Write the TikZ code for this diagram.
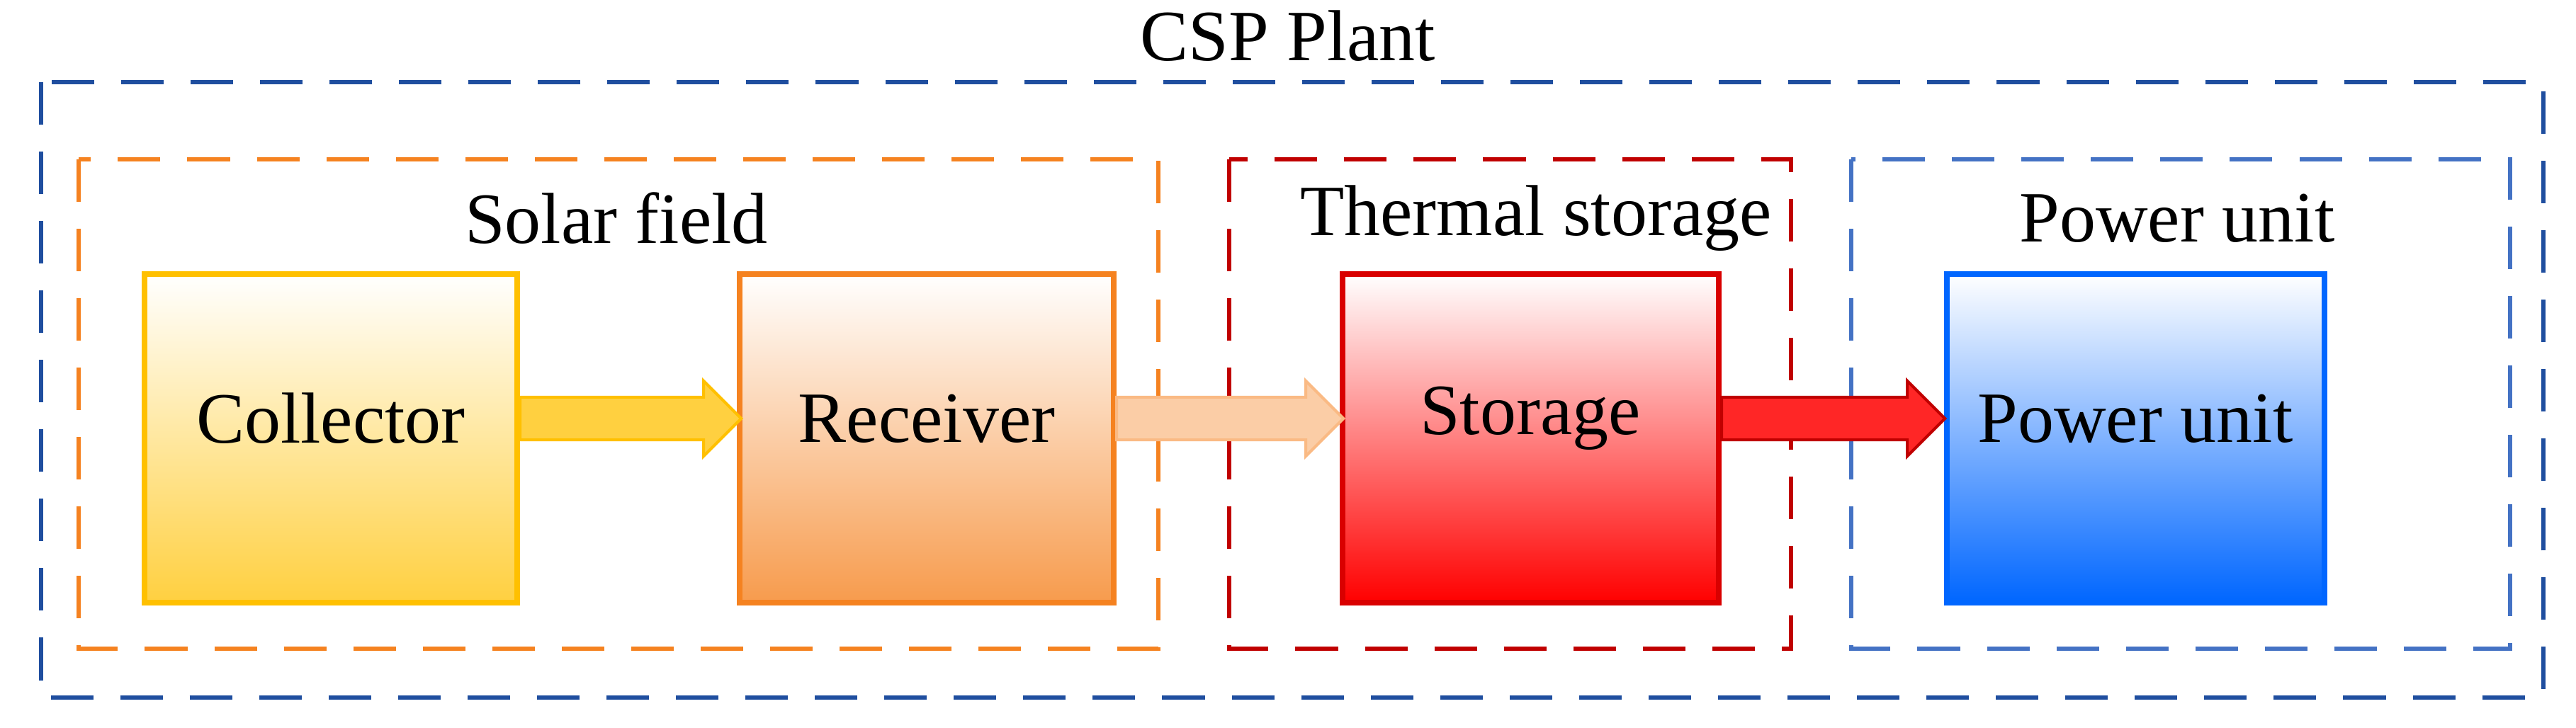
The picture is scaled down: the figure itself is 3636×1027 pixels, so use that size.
\documentclass[tikz,border=0pt]{standalone}
\usepackage{fontspec}
\setmainfont{Liberation Serif}
\usetikzlibrary{shapes.arrows}
\definecolor{gold}{HTML}{FFC000}
\definecolor{orng}{HTML}{F58220}
\definecolor{dred}{HTML}{C00000}
\definecolor{dblue}{HTML}{1F4E9F}
\definecolor{mblue}{HTML}{4472C4}
\definecolor{pblue}{HTML}{0066FF}
\begin{document}
\begin{tikzpicture}[x=0.01cm,y=-0.01cm,
  grp/.style={draw,line width=0.06cm,dash pattern=on 0.6cm off 0.38cm},
  lbl/.style={font=\fontsize{29}{35}\selectfont},
  blk/.style={draw,line width=0.08cm},
  arr/.style={single arrow,text height=0pt,text depth=0pt,text width=0pt,inner ysep=0.28cm,inner xsep=0pt,single arrow head extend=0.23cm,line width=0.04cm,anchor=west}]
\useasboundingbox (0,0) rectangle (3636,1027);
\draw[grp,dblue] (58,116) rectangle (3590,985);
\node[lbl] (csp) at (1818,51) {CSP Plant};
\draw[grp,orng] (111,225) rectangle (1635,916);
\draw[grp,dred] (1735,225) rectangle (2528,916);
\draw[grp,mblue] (2613,225) rectangle (3543,916);
\node[lbl] (sf) at (870,308) {Solar field};
\node[lbl] (ts) at (2168,308) {Thermal storage};
\node[lbl] (pu) at (3073,308) {Power unit};
\path[blk,draw=gold,top color=white,bottom color=gold!75] (204,387) rectangle (730,851);
\node[lbl] (col) at (467,591) {Collector};
\path[blk,draw=orng,top color=white,bottom color=orng!80] (1044,387) rectangle (1572,851);
\node[lbl] (rec) at (1308,591) {Receiver};
\path[blk,draw=red!85!black,top color=white,bottom color=red] (1895,387) rectangle (2426,851);
\node[lbl] (sto) at (2160,591) {Storage};
\path[blk,draw=pblue,top color=white,bottom color=pblue] (2748,387) rectangle (3281,851);
\node[lbl] (pow) at (3014,591) {Power unit};
\node[arr,fill=gold!75,draw=gold,minimum height=3.12cm] (a1) at (732,591) {};
\node[arr,fill=orng!40,draw=orng!55,minimum height=3.2cm] (a2) at (1574,591) {};
\node[arr,fill=red!85,draw=dred,minimum height=3.15cm] (a3) at (2428,591) {};
\end{tikzpicture}
\end{document}
